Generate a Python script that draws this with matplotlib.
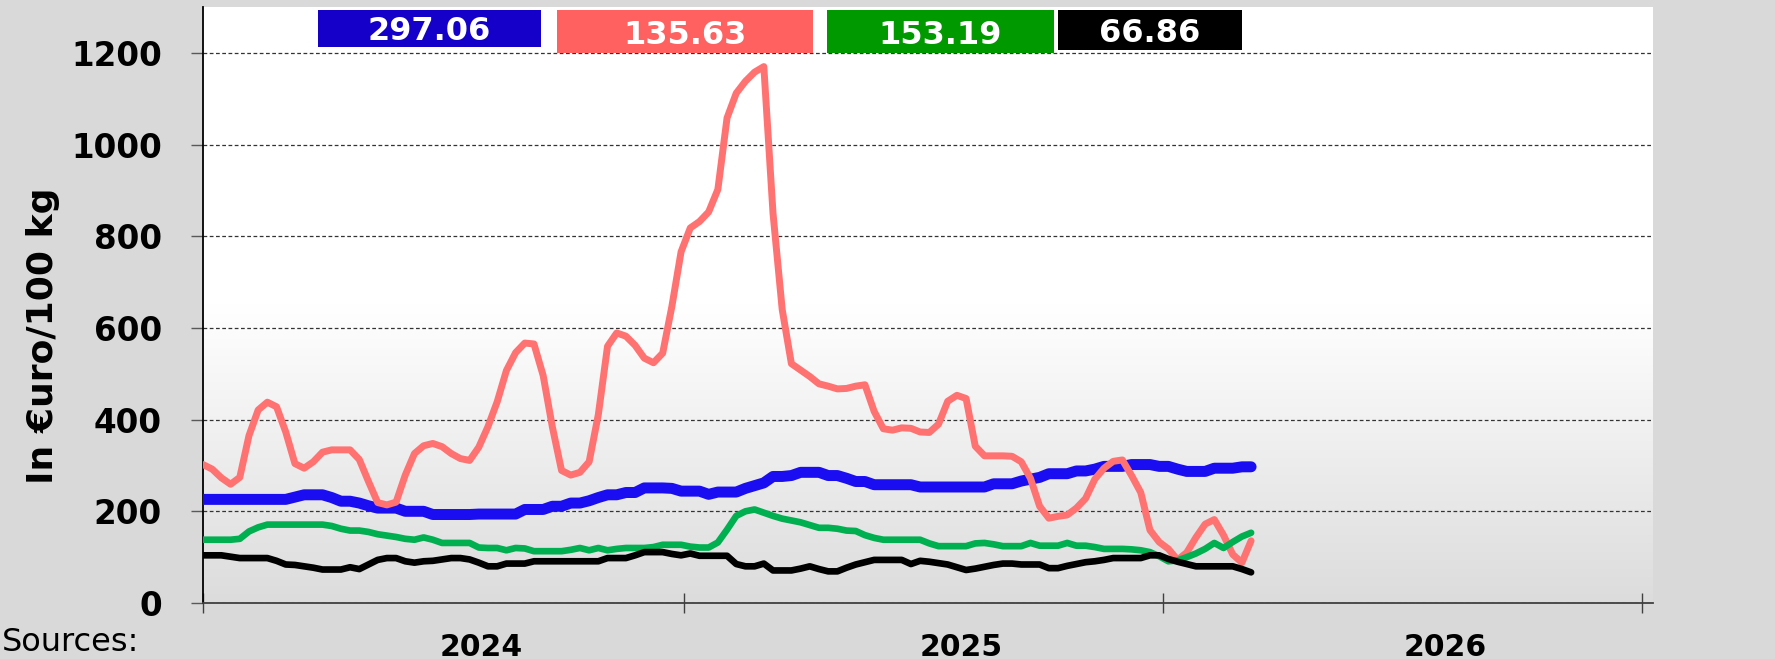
import matplotlib
matplotlib.use('Agg')
import matplotlib.pyplot as plt
import matplotlib.dates as mdates
from matplotlib.patches import Rectangle
from matplotlib.ticker import FixedLocator, NullFormatter, FixedFormatter
import numpy as np
import pandas as pd

# ---------------- data (weekly) ----------------
start_date = '2024-01-01'

blue_vals = [
    226, 226, 226, 226, 226, 226, 226, 226, 226, 226,
    231, 236, 236, 236, 230, 222, 222, 218, 212, 207,
    207, 207, 200, 200, 200, 193, 193, 193, 193, 193,
    194, 194, 194, 194, 194, 204, 204, 204, 211, 211,
    218, 218, 223, 230, 236, 236, 241, 241, 251, 251,
    251, 250, 244, 244, 244, 237, 242, 242, 242, 250,
    256, 262, 276, 276, 278, 285, 285, 285, 278, 278,
    272, 265, 265, 258, 258, 258, 258, 258, 253, 253,
    253, 253, 253, 253, 253, 253, 260, 260, 260, 266,
    270, 274, 282, 282, 282, 288, 288, 292, 298, 298,
    298, 302, 302, 302, 298, 298, 292, 287, 287, 287,
    294, 294, 294, 297, 297.06]

red_vals = [
    302, 292, 273, 259, 274, 365, 421, 438, 428, 373,
    304, 294, 308, 329, 334, 334, 334, 313, 265, 219,
    214, 220, 279, 326, 343, 348, 341, 326, 315, 311,
    340, 385, 439, 507, 546, 567, 565, 496, 384, 289,
    279, 285, 308, 411, 560, 589, 582, 562, 534, 524,
    545, 647, 766, 818, 832, 853, 902, 1058, 1112, 1138,
    1158, 1170, 850, 640, 522, 508, 494, 478, 473, 467,
    468, 473, 476, 418, 380, 377, 382, 381, 373, 372,
    390, 440, 453, 446, 342, 321, 321, 321, 320, 308,
    272, 211, 185, 189, 192, 207, 228, 270, 294, 309,
    312, 278, 241, 159, 133, 118, 94, 110, 143, 172,
    182, 148, 106, 88, 135.63]

green_vals = [
    138, 138, 138, 138, 140, 156, 165, 171, 171, 171,
    171, 171, 171, 171, 168, 162, 158, 158, 155, 150,
    147, 144, 140, 138, 143, 138, 131, 131, 131, 131,
    121, 120, 120, 115, 120, 119, 113, 113, 113, 113,
    116, 120, 115, 120, 115, 118, 120, 120, 120, 122,
    127, 127, 127, 123, 121, 121, 132, 160, 190, 200,
    204, 197, 190, 184, 180, 176, 170, 164, 164, 162,
    158, 157, 148, 142, 138, 138, 138, 138, 138, 130,
    124, 124, 124, 124, 130, 131, 128, 124, 124, 124,
    131, 125, 125, 125, 131, 125, 125, 122, 118, 118,
    118, 117, 115, 111, 102, 91, 93, 100, 108, 118,
    131, 120, 133, 145, 153.19]

black_vals = [
    104, 104, 104, 101, 98, 98, 98, 98, 92, 84,
    83, 80, 77, 73, 73, 73, 78, 74, 84, 94,
    98, 98, 91, 88, 91, 92, 95, 98, 98, 95,
    88, 80, 80, 86, 86, 86, 91, 91, 91, 91,
    91, 91, 91, 91, 98, 98, 98, 104, 111, 111,
    111, 107, 104, 108, 103, 103, 103, 103, 85, 80,
    80, 86, 71, 71, 71, 75, 80, 74, 69, 69,
    77, 84, 89, 94, 94, 94, 94, 85, 92, 90,
    87, 84, 78, 72, 75, 79, 83, 86, 86, 84,
    84, 84, 76, 76, 81, 85, 89, 91, 94, 98,
    98, 98, 98, 104, 104, 96, 90, 85, 80, 80,
    80, 80, 80, 74, 66.86]

year_tick_dates = ['2024-01-01', '2025-01-01', '2026-01-01', '2027-01-01']
year_label_dates = ['2024-07-31', '2025-07-31', '2026-08-04']
year_labels = ['2024', '2025', '2026']
y_ticks = [0, 200, 400, 600, 800, 1000, 1200]
y_label = 'In €uro/100 kg'
source_text = 'Sources:'

# ---------------- figure ----------------
W, H = 1775, 659
fig = plt.figure(figsize=(W / 100, H / 100), dpi=100, facecolor='#D9D9D9')
ax = fig.add_axes([203 / W, (H - 603) / H, 1450 / W, 596 / H])

dates = pd.date_range(start_date, periods=len(blue_vals), freq='7D')

x_left = mdates.date2num(pd.Timestamp('2024-01-01'))
x_right = mdates.date2num(pd.Timestamp('2027-01-09'))
ax.set_xlim(x_left, x_right)
ax.set_ylim(0, 1300)

# gradient plot-area background
t = np.linspace(0, 1, 300)
c = 0.863 + (1 - 0.863) * np.clip(t / 0.5, 0, 1)
grad = np.stack([c, c, c], axis=-1).reshape(300, 1, 3)
ax.imshow(grad, extent=[x_left, x_right, 0, 1300], aspect='auto',
          origin='lower', zorder=-1, interpolation='bilinear')
ax.set_xlim(x_left, x_right)
ax.set_ylim(0, 1300)

# lines
common = dict(solid_capstyle='round', solid_joinstyle='round')
ax.plot(dates, blue_vals, color='#1A0DF2', lw=7.9, zorder=3, **common)
ax.plot(dates, red_vals, color='#FF7272', lw=5.0, zorder=4, **common)
ax.plot(dates, green_vals, color='#00B050', lw=4.8, zorder=5, **common)
ax.plot(dates, black_vals, color='#000000', lw=4.8, zorder=6, **common)

# grid
ax.set_axisbelow(True)
ax.yaxis.grid(True, color='#333333', linestyle=(0, (3, 2)), linewidth=0.9)
ax.set_yticks(y_ticks)
ax.set_yticklabels([str(v) for v in y_ticks], fontsize=23.5, fontweight='bold',
                   family='DejaVu Sans')
ax.tick_params(axis='y', direction='out', length=8.6, width=1.0, color='#595959',
               pad=21)

# x axis: year boundary ticks + centred year labels
ax.xaxis.set_major_locator(FixedLocator([mdates.date2num(pd.Timestamp(d)) for d in year_tick_dates]))
ax.xaxis.set_major_formatter(NullFormatter())
ax.xaxis.set_minor_locator(FixedLocator([mdates.date2num(pd.Timestamp(d)) for d in year_label_dates]))
ax.xaxis.set_minor_formatter(FixedFormatter(year_labels))
ax.tick_params(axis='x', which='major', direction='inout', length=14.4, width=1.0,
               color='#404040')
ax.tick_params(axis='x', which='minor', length=0, pad=21.5, labelsize=21.5)
for lbl in ax.xaxis.get_minorticklabels():
    lbl.set_fontweight('bold')

for s in ['top', 'right']:
    ax.spines[s].set_visible(False)
ax.spines['left'].set_color('#000000')
ax.spines['left'].set_linewidth(1.3)
ax.spines['bottom'].set_color('#404040')
ax.spines['bottom'].set_linewidth(1.3)

# value badges (last values)
def fx(px):
    return (px - 203) / 1450

def fy(py):
    return (603 - py) / 596

badges = [
    ('#1400C8', blue_vals[-1], 318, 541, 10, 47),
    ('#FF6060', red_vals[-1], 557, 813, 10, 53),
    ('#009900', green_vals[-1], 827, 1054, 10, 53),
    ('#000000', black_vals[-1], 1058, 1242, 10, 50),
]
for col, val, x0, x1, y0, y1 in badges:
    ax.add_patch(Rectangle((fx(x0), fy(y1)), fx(x1) - fx(x0), fy(y0) - fy(y1),
                           transform=ax.transAxes, facecolor=col, edgecolor='none',
                           zorder=10, clip_on=False))
    ax.text((fx(x0) + fx(x1)) / 2, (fy(y0) + fy(y1)) / 2, f'{val:.2f}',
            transform=ax.transAxes, ha='center', va='center_baseline',
            color='white', fontsize=23, fontweight='bold', zorder=11)

# y label and source note
fig.text(43 / W, (H - 336) / H, y_label, rotation=90, ha='center', va='center',
         fontsize=26, fontweight='bold')
fig.text(2 / W, (H - 651) / H, source_text, ha='left', va='baseline', fontsize=23)

fig.savefig('out.png', dpi=100, facecolor=fig.get_facecolor())
